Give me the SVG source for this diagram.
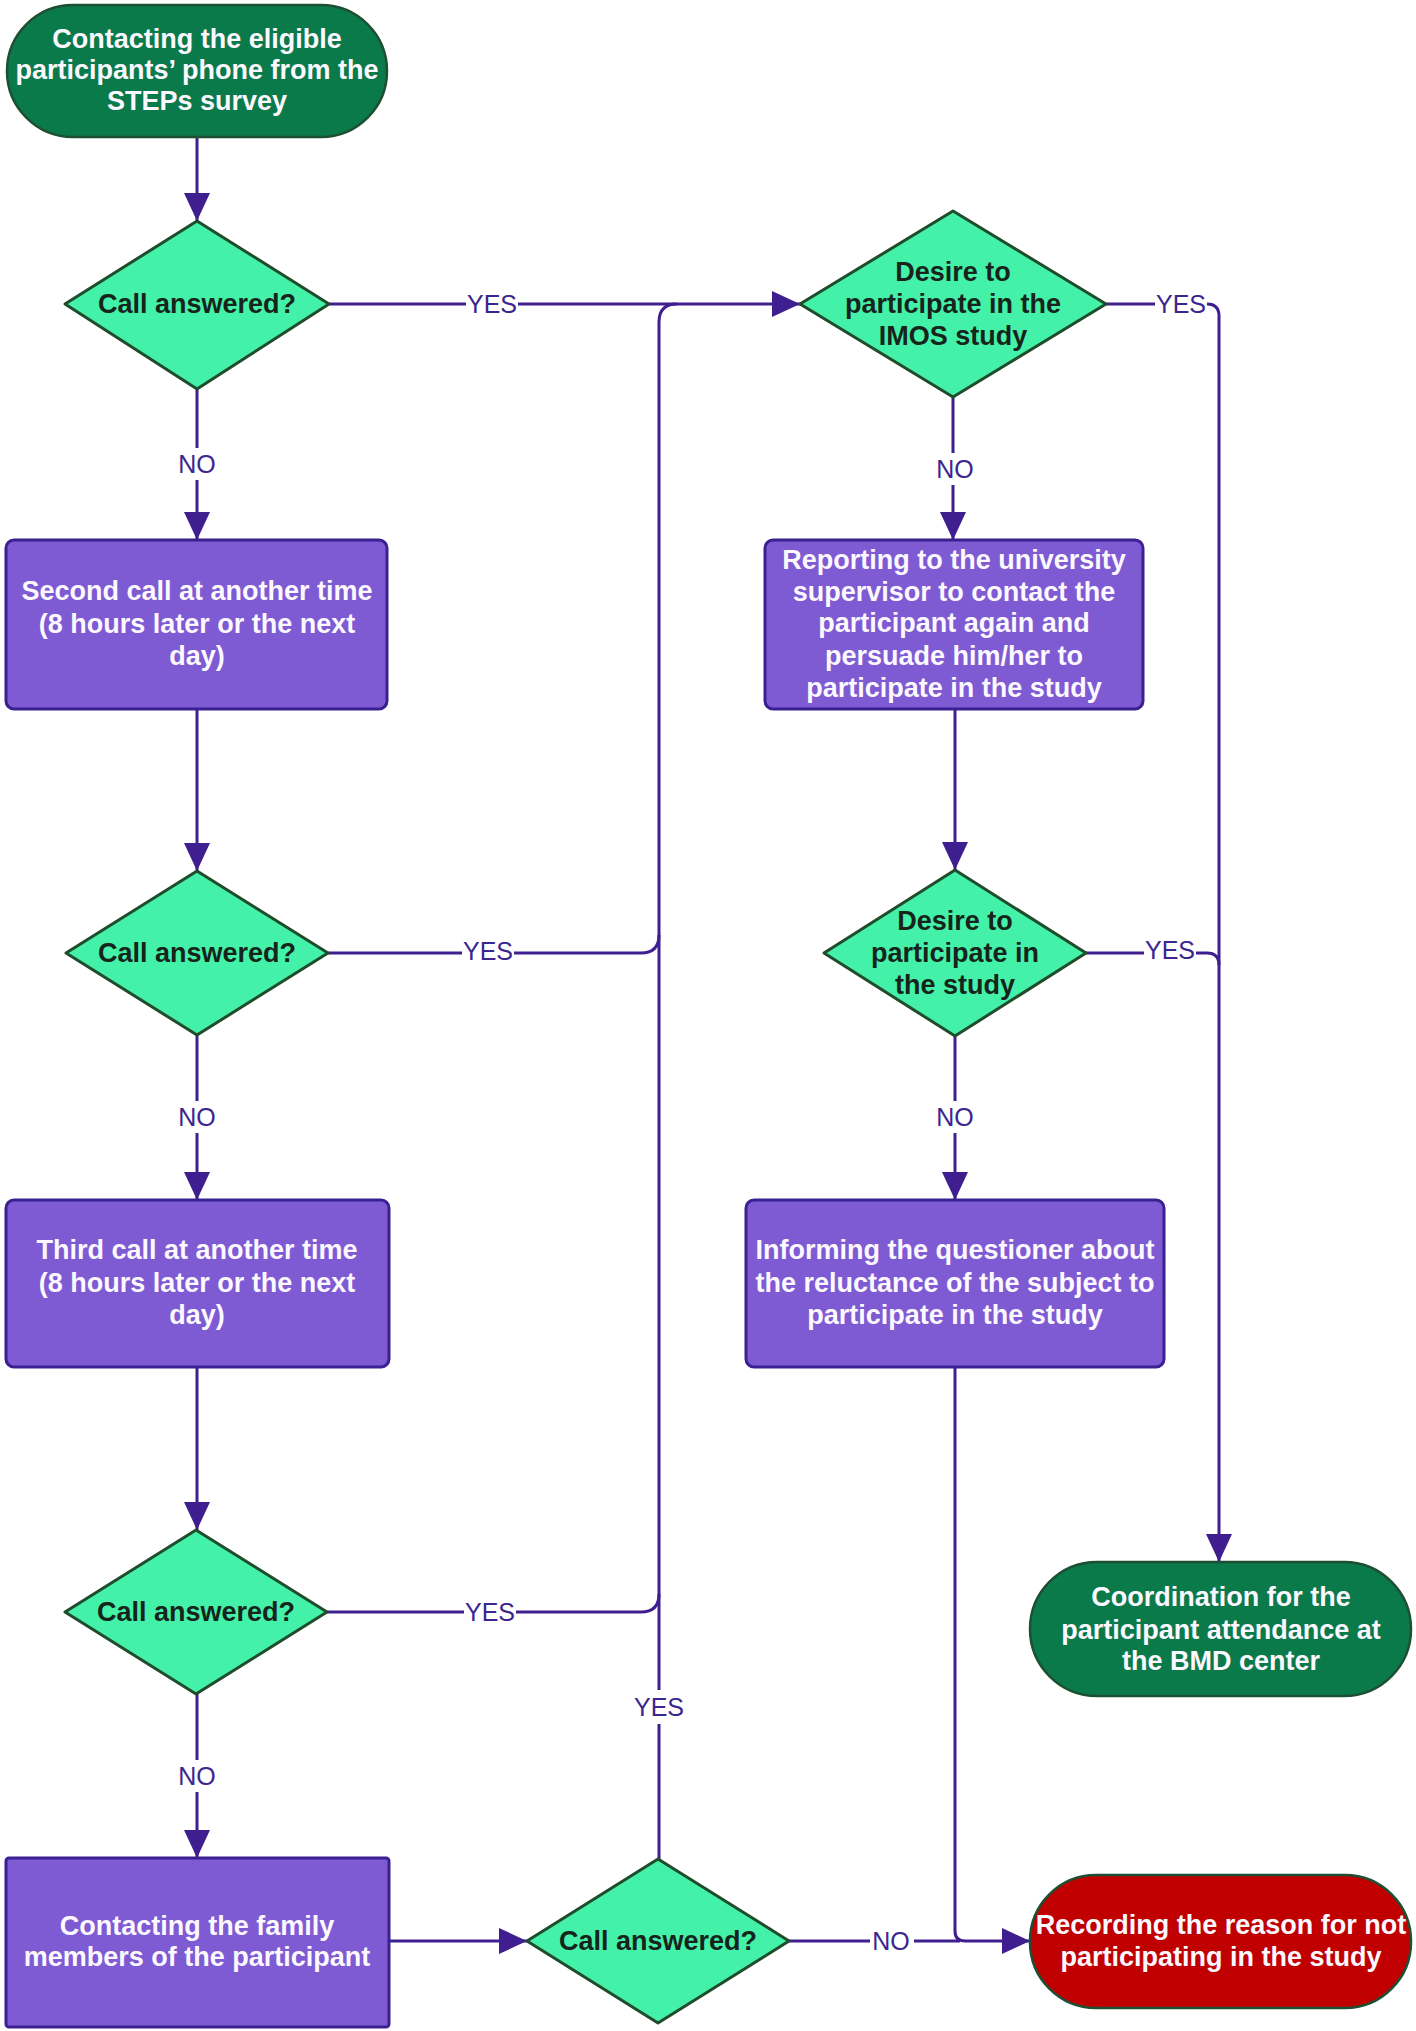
<svg xmlns="http://www.w3.org/2000/svg" width="1416" height="2031" viewBox="0 0 1416 2031">
<defs>
<marker id="arr" markerUnits="userSpaceOnUse" markerWidth="30" markerHeight="28" refX="28" refY="13" orient="auto">
<path d="M0,0 L28,13 L0,26 Z" fill="#3f1f8f"/>
</marker>
<style>
.term{fill:#0b7a4b;stroke:#1d4f33;stroke-width:2.5}
.red{fill:#c00000;stroke:#1d4f33;stroke-width:2.5}
.dia{fill:#44f1a8;stroke:#1f4d2c;stroke-width:3;stroke-linejoin:round}
.box{fill:#7f5bd3;stroke:#3a2192;stroke-width:3}
.tw{font-family:"Liberation Sans",Arial,sans-serif;font-weight:bold;font-size:27px;fill:#fbf8ff;text-anchor:middle}
.td{font-family:"Liberation Sans",Arial,sans-serif;font-weight:bold;font-size:27px;fill:#16241b;text-anchor:middle}
.ln{fill:none;stroke:#3f1f8f;stroke-width:3}
.lb{font-family:"Liberation Sans",Arial,sans-serif;font-size:25px;fill:#3b2690;text-anchor:middle}
.bg{fill:#ffffff}
</style>
</defs>
<rect width="1416" height="2031" fill="#ffffff"/>

<g id="connectors">
<path class="ln" d="M197,137 V221" marker-end="url(#arr)"/>
<path class="ln" d="M197,389 V540" marker-end="url(#arr)"/>
<path class="ln" d="M197,709 V871" marker-end="url(#arr)"/>
<path class="ln" d="M197,1035 V1200" marker-end="url(#arr)"/>
<path class="ln" d="M197,1367 V1530" marker-end="url(#arr)"/>
<path class="ln" d="M197,1694 V1858" marker-end="url(#arr)"/>
<path class="ln" d="M389,1941 H527" marker-end="url(#arr)"/>
<path class="ln" d="M329,304 H800" marker-end="url(#arr)"/>
<path class="ln" d="M659,1859 V322 Q659,304 677,304"/>
<path class="ln" d="M328,953 H641 Q659,953 659,935"/>
<path class="ln" d="M327,1612 H641 Q659,1612 659,1594"/>
<path class="ln" d="M953,397 V540" marker-end="url(#arr)"/>
<path class="ln" d="M1106,304 H1207 Q1219,304 1219,316 V1562" marker-end="url(#arr)"/>
<path class="ln" d="M955,709 V870" marker-end="url(#arr)"/>
<path class="ln" d="M955,1036 V1200" marker-end="url(#arr)"/>
<path class="ln" d="M1086,953 H1207 Q1219,953 1219,965"/>
<path class="ln" d="M955,1367 V1931 Q955,1941 965,1941 H1030" marker-end="url(#arr)"/>
<path class="ln" d="M789,1941 H960"/>
<rect class="bg" x="172" y="448" width="50" height="32"/>
<text class="lb" x="197" y="473">NO</text>
<rect class="bg" x="466" y="290" width="52" height="28"/>
<text class="lb" x="492" y="313">YES</text>
<rect class="bg" x="462" y="937" width="52" height="28"/>
<text class="lb" x="488" y="960">YES</text>
<rect class="bg" x="172" y="1101" width="50" height="32"/>
<text class="lb" x="197" y="1126">NO</text>
<rect class="bg" x="464" y="1598" width="52" height="28"/>
<text class="lb" x="490" y="1621">YES</text>
<rect class="bg" x="172" y="1760" width="50" height="32"/>
<text class="lb" x="197" y="1785">NO</text>
<rect class="bg" x="633" y="1690" width="52" height="34"/>
<text class="lb" x="659" y="1716">YES</text>
<rect class="bg" x="870" y="1927" width="44" height="28"/>
<text class="lb" x="891" y="1950">NO</text>
<rect class="bg" x="930" y="453" width="50" height="32"/>
<text class="lb" x="955" y="478">NO</text>
<rect class="bg" x="1155" y="290" width="52" height="28"/>
<text class="lb" x="1181" y="313">YES</text>
<rect class="bg" x="930" y="1101" width="50" height="32"/>
<text class="lb" x="955" y="1126">NO</text>
<rect class="bg" x="1144" y="936" width="52" height="28"/>
<text class="lb" x="1170" y="959">YES</text>
</g>

<g id="start">
<rect class="term" x="7" y="5" width="380" height="132" rx="66"/>
<text class="tw" x="197" y="48">Contacting the eligible</text>
<text class="tw" x="197" y="79">participants’ phone from the</text>
<text class="tw" x="197" y="110">STEPs survey</text>
</g>

<g id="d1">
<polygon class="dia" points="197,221 329,304 197,389 65,304"/>
<text class="td" x="197" y="313">Call answered?</text>
</g>

<g id="second-call">
<rect class="box" x="6" y="540" width="381" height="169" rx="8"/>
<text class="tw" x="197" y="600">Second call at another time</text>
<text class="tw" x="197" y="633">(8 hours later or the next</text>
<text class="tw" x="197" y="665">day)</text>
</g>

<g id="d2">
<polygon class="dia" points="197,871 328,953 197,1035 66,953"/>
<text class="td" x="197" y="962">Call answered?</text>
</g>

<g id="third-call">
<rect class="box" x="6" y="1200" width="383" height="167" rx="8"/>
<text class="tw" x="197" y="1259">Third call at another time</text>
<text class="tw" x="197" y="1292">(8 hours later or the next</text>
<text class="tw" x="197" y="1324">day)</text>
</g>

<g id="d3">
<polygon class="dia" points="196,1530 327,1612 196,1694 65,1612"/>
<text class="td" x="196" y="1621">Call answered?</text>
</g>

<g id="family">
<rect class="box" x="6" y="1858" width="383" height="169" rx="3"/>
<text class="tw" x="197" y="1935">Contacting the family</text>
<text class="tw" x="197" y="1966">members of the participant</text>
</g>

<g id="d4">
<polygon class="dia" points="658,1859 789,1941 658,2023 527,1941"/>
<text class="td" x="658" y="1950">Call answered?</text>
</g>

<g id="imos">
<polygon class="dia" points="953,211 1106,304 953,397 800,304"/>
<text class="td" x="953" y="281">Desire to</text>
<text class="td" x="953" y="313">participate in the</text>
<text class="td" x="953" y="345">IMOS study</text>
</g>

<g id="reporting">
<rect class="box" x="765" y="540" width="378" height="169" rx="8"/>
<text class="tw" x="954" y="569">Reporting to the university</text>
<text class="tw" x="954" y="601">supervisor to contact the</text>
<text class="tw" x="954" y="632">participant again and</text>
<text class="tw" x="954" y="665">persuade him/her to</text>
<text class="tw" x="954" y="697">participate in the study</text>
</g>

<g id="desire">
<polygon class="dia" points="955,870 1086,953 955,1036 824,953"/>
<text class="td" x="955" y="930">Desire to</text>
<text class="td" x="955" y="962">participate in</text>
<text class="td" x="955" y="994">the study</text>
</g>

<g id="informing">
<rect class="box" x="746" y="1200" width="418" height="167" rx="8"/>
<text class="tw" x="955" y="1259">Informing the questioner about</text>
<text class="tw" x="955" y="1292">the reluctance of the subject to</text>
<text class="tw" x="955" y="1324">participate in the study</text>
</g>

<g id="coordination">
<rect class="term" x="1030" y="1562" width="381" height="134" rx="67"/>
<text class="tw" x="1221" y="1606">Coordination for the</text>
<text class="tw" x="1221" y="1639">participant attendance at</text>
<text class="tw" x="1221" y="1670">the BMD center</text>
</g>

<g id="recording">
<rect class="red" x="1030" y="1875" width="381" height="133" rx="66"/>
<text class="tw" x="1221" y="1934">Recording the reason for not</text>
<text class="tw" x="1221" y="1966">participating in the study</text>
</g>
</svg>
